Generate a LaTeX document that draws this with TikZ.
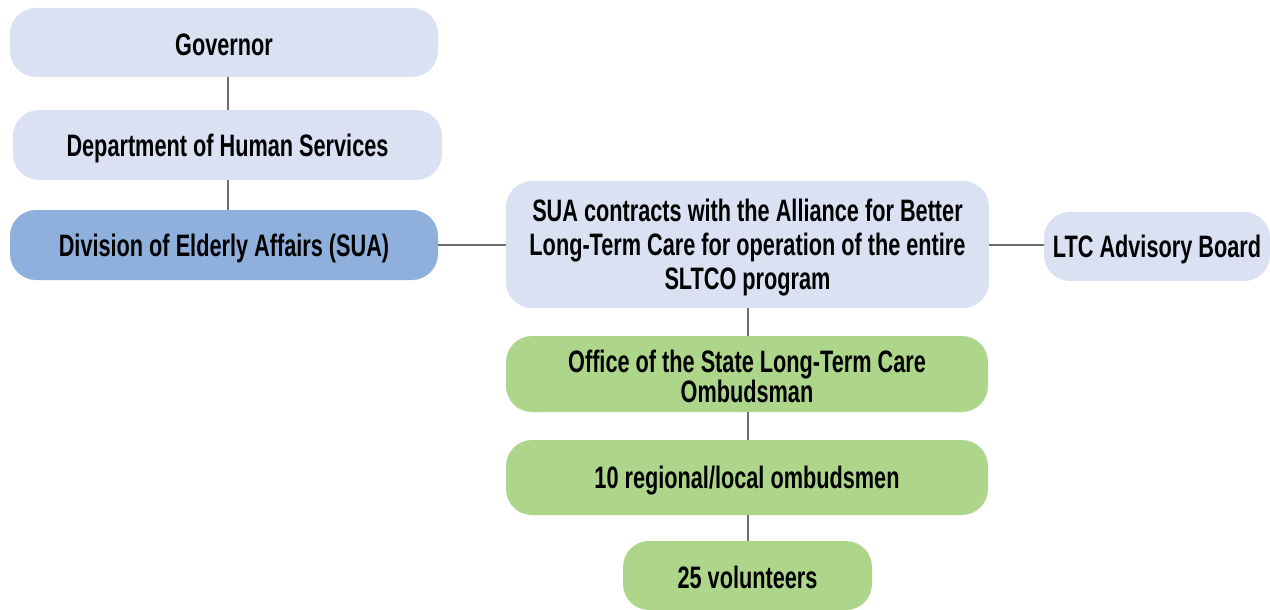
\documentclass[tikz,border=0pt]{standalone}
\usepackage{fontspec}
\setmainfont[FakeStretch=0.70]{Liberation Sans}
\definecolor{lblue}{HTML}{D9E1F3}
\definecolor{dblue}{HTML}{8FB0DD}
\definecolor{lgreen}{HTML}{AED68B}
\definecolor{lgray}{HTML}{6E6E6E}
\begin{document}
\begin{tikzpicture}[x=1pt,y=-1pt,
  box/.style={rounded corners=26pt, inner sep=0pt},
  lab/.style={inner sep=0pt, align=center, text=black, yshift=-3pt,
    font=\bfseries\fontsize{31}{34}\selectfont},
  conn/.style={draw=lgray, line width=2pt}]
\useasboundingbox (0,0) rectangle (1270,610);
\node[box, fill=lblue, minimum width=428pt, minimum height=69pt,
  label={[lab, yshift=1pt]center:Governor}] (gov) at (224,42.5) {};
\node[box, fill=lblue, minimum width=429pt, minimum height=70pt,
  label={[lab]center:Department of Human Services}] (dhs) at (227.5,145) {};
\node[box, fill=dblue, minimum width=428pt, minimum height=70pt,
  label={[lab]center:Division of Elderly Affairs (SUA)}] (div) at (224,245) {};
\node[box, fill=lblue, minimum width=483pt, minimum height=127pt,
  label={[lab]center:{SUA contracts with the Alliance for Better\\Long-Term Care for operation of the entire\\SLTCO program}}] (sua) at (747.5,244.5) {};
\node[box, fill=lblue, minimum width=226pt, minimum height=69pt,
  label={[lab]center:LTC Advisory Board}] (ltc) at (1157,246.5) {};
\node[box, fill=lgreen, minimum width=482pt, minimum height=76pt,
  label={[lab, yshift=1pt, font=\bfseries\fontsize{31}{29}\selectfont]center:{Office of the State Long-Term Care\\Ombudsman}}] (off) at (747,374) {};
\node[box, fill=lgreen, minimum width=482pt, minimum height=75pt,
  label={[lab]center:10 regional/local ombudsmen}] (reg) at (747,477.5) {};
\node[box, fill=lgreen, minimum width=249pt, minimum height=69pt,
  label={[lab, yshift=1pt]center:25 volunteers}] (vol) at (747.5,575.5) {};
\draw[conn] (gov.south -| 228,0) -- (dhs.north -| 228,0);
\draw[conn] (dhs.south -| 228,0) -- (div.north -| 228,0);
\draw[conn] (div.east) -- (div.east -| sua.west);
\draw[conn] (sua.east) -- (sua.east -| ltc.west);
\draw[conn] (sua.south -| 748,0) -- (off.north -| 748,0);
\draw[conn] (off.south -| 748,0) -- (reg.north -| 748,0);
\draw[conn] (reg.south -| 748,0) -- (vol.north -| 748,0);
\end{tikzpicture}
\end{document}
